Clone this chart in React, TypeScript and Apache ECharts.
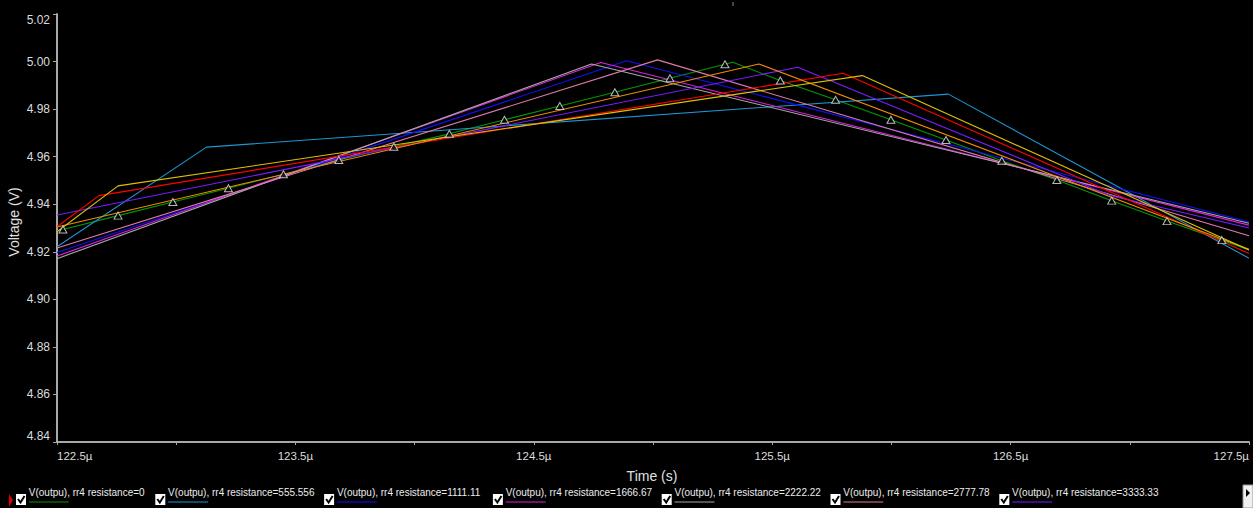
import React, { useEffect, useRef } from 'react';
import * as echarts from 'echarts';

// ---- data (time in µs, voltage in V) ----
const resistances = ['0', '555.556', '1111.11', '1666.67', '2222.22', '2777.78', '3333.33', '3888.89', '4444.44', '5000'];
const legendVisibleCount = 7;

// r4 = 0 (green) — vertices and evenly spaced data-point markers
const greenMarkT = [122.525, 122.756, 122.986, 123.219, 123.45, 123.682, 123.913, 124.146, 124.377, 124.609, 124.84, 125.071, 125.302, 125.534, 125.766, 125.998, 126.229, 126.463, 126.694, 126.924, 127.156, 127.386];
const greenMarkV = [4.9294, 4.9352, 4.9409, 4.9467, 4.9526, 4.9586, 4.9642, 4.9696, 4.9755, 4.9813, 4.9871, 4.993, 4.9989, 4.992, 4.9839, 4.9755, 4.967, 4.9583, 4.9502, 4.9415, 4.9329, 4.9249];
const greenExtraT = [122.5, 125.335, 127.5];
const greenExtraV = [4.9288, 4.9997, 4.9208];

// r4 = 555.556 (cyan)
const cyanT = [122.5, 123.127, 126.239, 127.5];
const cyanV = [4.9221, 4.964, 4.9863, 4.9173];
// r4 = 1111.11 (blue)
const blueT = [122.5, 124.889, 127.5];
const blueV = [4.9197, 5.0003, 4.9325];
// r4 = 1666.67 (magenta)
const magentaT = [122.5, 124.781, 127.5];
const magentaV = [4.9182, 4.9996, 4.9312];
// r4 = 2222.22 (gray)
const grayT = [122.5, 124.742, 127.5];
const grayV = [4.9171, 4.999, 4.932];
// r4 = 2777.78 (pink)
const pinkT = [122.5, 125.019, 127.5];
const pinkV = [4.9216, 5.0007, 4.9267];
// r4 = 3333.33 (purple)
const purpleT = [122.5, 125.607, 126.917, 127.5];
const purpleV = [4.9355, 4.9976, 4.9437, 4.93];
// r4 = 3888.89 (red)
const redT = [122.5, 122.676, 125.798, 127.5];
const redV = [4.9305, 4.9436, 4.9951, 4.9193];
// r4 = 4444.44 (orange)
const orangeT = [122.5, 125.444, 127.5];
const orangeV = [4.9304, 4.999, 4.9211];
// r4 = 5000 (yellow)
const yellowT = [122.5, 122.756, 125.878, 127.5];
const yellowV = [4.9284, 4.9477, 4.9941, 4.9207];

// axis ranges / ticks
const xMin = 122.5, xMax = 127.5, xStep = 0.5;
const yMin = 4.84, yMax = 5.02, yStep = 0.02;

const traceColors = ['#009a00', '#1c96d4', '#1010ff', '#e020e0', '#a8a8a8', '#e07aa8', '#7a1cff', '#ff0000', '#f08c00', '#e0c000'];

function zip(t: number[], v: number[]) {
  return t.map((x, i) => [x, v[i]]);
}

export default function App() {
  const ref = useRef<HTMLDivElement>(null);
  useEffect(() => {
    document.body.style.margin = '0';
    document.body.style.background = '#000';
    const chart = echarts.init(ref.current!, null, { renderer: 'svg' });

    const greenLine = zip(greenMarkT.concat(greenExtraT), greenMarkV.concat(greenExtraV)).sort((a, b) => a[0] - b[0]);
    const traces = [greenLine, zip(cyanT, cyanV), zip(blueT, blueV), zip(magentaT, magentaV), zip(grayT, grayV), zip(pinkT, pinkV), zip(purpleT, purpleV), zip(redT, redV), zip(orangeT, orangeV), zip(yellowT, yellowV)];

    const series: any[] = traces.map((d, i) => ({
      type: 'line',
      name: 'V(outpu), rr4 resistance=' + resistances[i],
      data: d,
      showSymbol: false,
      symbol: 'none',
      silent: true,
      lineStyle: { color: traceColors[i], width: 1.1 },
      itemStyle: { color: traceColors[i] },
      emphasis: { disabled: true },
    }));
    series.push({
      type: 'scatter',
      name: 'markers',
      data: zip(greenMarkT, greenMarkV),
      symbol: 'triangle',
      symbolSize: [8, 7],
      silent: true,
      z: 5,
      itemStyle: { color: '#000', borderColor: '#e4e4e4', borderWidth: 1 },
    });

    const font = 'Arial, "Liberation Sans", sans-serif';
    const graphic: any[] = [
      { type: 'text', x: 14, y: 222, rotation: Math.PI / 2, style: { text: 'Voltage (V)', fill: '#e0e0e0', font: '14px ' + font, align: 'center', verticalAlign: 'middle' } },
      { type: 'text', x: 652, y: 476, style: { text: 'Time (s)', fill: '#e0e0e0', font: '14px ' + font, align: 'center', verticalAlign: 'middle' } },
      { type: 'line', shape: { x1: 733, y1: 2, x2: 733, y2: 6 }, style: { stroke: '#888', lineWidth: 1 } },
      { type: 'polygon', shape: { points: [[9, 494], [13, 500], [9, 507]] }, style: { fill: '#e00000' } },
      { type: 'rect', shape: { x: 1243, y: 485, width: 10, height: 23 }, style: { fill: '#f0f0f0', stroke: '#999', lineWidth: 1 } },
      { type: 'polygon', shape: { points: [[1246, 489], [1250, 493], [1246, 497]] }, style: { fill: '#000' } },
    ];
    for (let i = 0; i < legendVisibleCount; i++) {
      const x0 = i === 0 ? 16 : 155.3 + (i - 1) * 168.8;
      const tx = x0 + 12.8;
      graphic.push(
        { type: 'rect', shape: { x: x0, y: 494, width: 10, height: 11 }, style: { fill: '#fff' } },
        { type: 'polyline', shape: { points: [[x0 + 2, 499], [x0 + 4.5, 502.5], [x0 + 8.5, 496]] }, style: { stroke: '#000', lineWidth: 2, fill: 'none' } },
        { type: 'text', x: tx, y: 492, scaleX: 0.87, style: { text: 'V(outpu), rr4 resistance=' + resistances[i], fill: '#ececec', font: '11.5px ' + font, align: 'left', verticalAlign: 'middle' } },
        { type: 'line', shape: { x1: tx, y1: 502, x2: tx + 40, y2: 502 }, style: { stroke: traceColors[i], lineWidth: 1 } },
      );
    }

    const option: any = {
      animation: false,
      backgroundColor: '#000',
      grid: { left: 57, right: 4, top: 14, bottom: 66, containLabel: false },
      xAxis: {
        type: 'value',
        min: xMin,
        max: xMax,
        interval: xStep,
        axisLine: { show: true, onZero: false, lineStyle: { color: '#a8a8a8', width: 2 } },
        axisTick: { show: true, length: 3, lineStyle: { color: '#a8a8a8' } },
        splitLine: { show: false },
        axisLabel: {
          color: '#dcdcdc',
          fontSize: 11.5,
          fontFamily: font,
          margin: 8,
          showMinLabel: true,
          showMaxLabel: true,
          hideOverlap: false,
          alignMinLabel: 'left',
          alignMaxLabel: 'right',
          formatter: (v: number) => {
            const r = Math.round(v * 2);
            return r % 2 === 0 ? '' : (r / 2).toFixed(1) + 'µ';
          },
        },
      },
      yAxis: {
        type: 'value',
        min: yMin,
        max: yMax,
        interval: yStep,
        axisLine: { show: true, onZero: false, lineStyle: { color: '#a8a8a8', width: 2 } },
        axisTick: { show: true, length: 4, lineStyle: { color: '#a8a8a8' } },
        splitLine: { show: false },
        axisLabel: {
          color: '#dcdcdc',
          fontSize: 12,
          fontFamily: font,
          margin: 7,
          showMinLabel: true,
          showMaxLabel: true,
          verticalAlignMinLabel: 'bottom',
          verticalAlignMaxLabel: 'top',
          formatter: (v: number) => v.toFixed(2),
        },
      },
      series,
      graphic,
    };
    chart.setOption(option);
    return () => chart.dispose();
  }, []);
  return <div ref={ref} style={{ width: 1253, height: 508 }} />;
}
